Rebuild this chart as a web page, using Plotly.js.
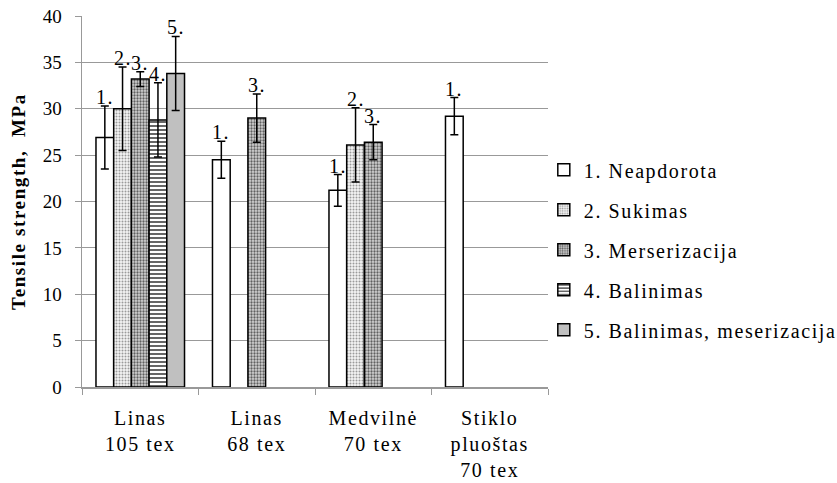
<!DOCTYPE html>
<html>
<head>
<meta charset="utf-8">
<script src="https://cdn.plot.ly/plotly-3.0.1.min.js"></script>
<style>
html,body{margin:0;padding:0;background:#fff;}
#chart{width:837px;height:483px;}
.legendtext, .xtick text, .ytitle, .annotation-text {letter-spacing:1.6px;}
</style>
</head>
<body>
<div id="chart"></div>
<script>
const categories = ["Linas<br>105 tex", "Linas<br>68 tex", "Medvilnė<br>70 tex", "Stiklo<br>pluoštas<br>70 tex"];
const seriesNames = ["1. Neapdorota", "2. Sukimas", "3. Merserizacija", "4. Balinimas", "5. Balinimas, meserizacija"];
const seriesLabels = ["1.", "2.", "3.", "4.", "5."];
const neapdorota = [26.9, 24.5, 21.2, 29.2];
const neapdorotaErr = [3.4, 2.0, 1.7, 2.0];
const sukimas = [30.0, null, 26.1, null];
const sukimasErr = [4.5, null, 4.0, null];
const merserizacija = [33.2, 29.0, 26.4, null];
const merserizacijaErr = [0.8, 2.6, 1.9, null];
const balinimas = [28.8, null, null, null];
const balinimasErr = [4.0, null, null, null];
const balMers = [33.8, null, null, null];
const balMersErr = [4.0, null, null, null];

const values = [neapdorota, sukimas, merserizacija, balinimas, balMers];
const errors = [neapdorotaErr, sukimasErr, merserizacijaErr, balinimasErr, balMersErr];

const markers = [
  {color: '#ffffff', line: {color: '#000', width: 1.5}},
  {color: '#ffffff', line: {color: '#000', width: 1.5}, pattern: {shape: '.', fgcolor: '#9a9a9a', bgcolor: '#f4f4f4', size: 3, solidity: 0.35}},
  {color: '#ffffff', line: {color: '#000', width: 1.5}, pattern: {shape: '.', fgcolor: '#606060', bgcolor: '#d4d4d4', size: 3, solidity: 0.45}},
  {color: '#ffffff', line: {color: '#000', width: 1.5}, pattern: {shape: '-', fgcolor: '#000', bgcolor: '#fff', size: 4, solidity: 0.3}},
  {color: '#c0c0c0', line: {color: '#000', width: 1.5}}
];

const traces = values.map((v, i) => ({
  type: 'bar',
  name: seriesNames[i],
  x: categories,
  y: v,
  legendgroup: 'g' + i,
  marker: markers[i],
  error_y: {type: 'data', array: errors[i], visible: true, color: '#000', thickness: 1.5, width: 4},
  hoverinfo: 'skip'
}));

const FAM = 'Liberation Serif';
const plotW = 837 - 82 - 289;
const bargap = 0.24;
const slotW = plotW / categories.length * (1 - bargap) / values.length;

const annotations = [];
values.forEach((v, i) => {
  v.forEach((val, j) => {
    if (val === null) return;
    annotations.push({
      x: categories[j], y: val + errors[i][j], xref: 'x', yref: 'y',
      text: seriesLabels[i], showarrow: false, yanchor: 'bottom',
      xshift: (i - 2) * slotW, yshift: -4,
      font: {family: FAM, size: 20, color: '#000'}
    });
  });
});

const layout = {
  width: 837, height: 483,
  margin: {l: 82, r: 289, t: 16, b: 96, autoexpand: false},
  paper_bgcolor: '#fff', plot_bgcolor: '#fff',
  barmode: 'group', bargap: bargap, bargroupgap: 0,
  font: {family: FAM, size: 19, color: '#000'},
  showlegend: true,
  legend: {x: 0.991, xanchor: 'left', y: 0.37, yanchor: 'middle', tracegroupgap: 11, itemwidth: 30,
           font: {family: FAM, size: 20, color: '#000'}, bgcolor: 'rgba(0,0,0,0)'},
  xaxis: {type: 'category', showline: true, linecolor: '#999', linewidth: 1.5,
          ticks: 'outside', tickson: 'boundaries', ticklen: 6, tickcolor: '#999',
          ticklabelstandoff: 12, automargin: false,
          showgrid: false, tickfont: {family: FAM, size: 20, color: '#000'}, fixedrange: true},
  yaxis: {range: [0, 40], dtick: 5, showline: true, linecolor: '#999', linewidth: 1.5,
          ticks: 'outside', ticklen: 6, tickcolor: '#999', ticklabelstandoff: 9, automargin: false,
          showgrid: true, gridcolor: '#999', gridwidth: 1.2, zeroline: false,
          tickfont: {family: FAM, size: 19, color: '#000'},
          title: {text: '<b>Tensile strength,  MPa</b>', font: {family: FAM, size: 19, color: '#000'}, standoff: 12}},
  annotations: annotations
};

Plotly.newPlot('chart', traces, layout, {displayModeBar: false, staticPlot: true});
</script>
</body>
</html>
